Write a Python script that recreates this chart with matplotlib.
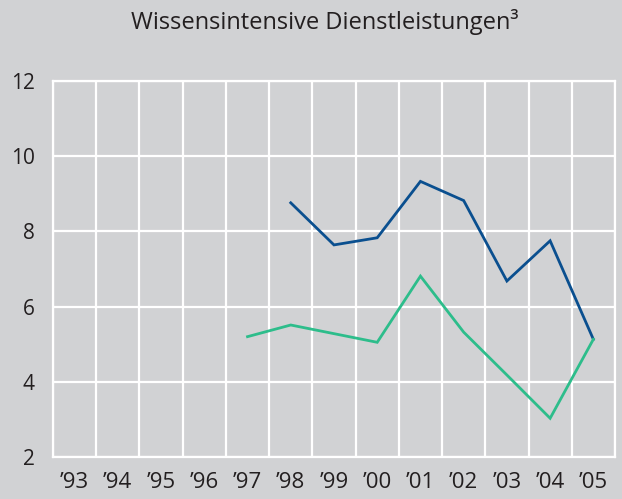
import matplotlib.pyplot as plt
import numpy as np

plt.rcParams['font.family'] = ['Open Sans', 'DejaVu Sans']

years = ["’93", "’94", "’95", "’96", "’97", "’98", "’99", "’00", "’01", "’02", "’03", "’04", "’05"]
# blue series from '98
blue_years = [5, 6, 7, 8, 9, 10, 11, 12]
blue_vals = [8.76, 7.64, 7.83, 9.33, 8.82, 6.68, 7.75, 5.13]
# green series from '97
green_years = [4, 5, 6, 7, 8, 9, 10, 11, 12]
green_vals = [5.2, 5.51, 5.28, 5.05, 6.81, 5.32, 4.18, 3.03, 5.13]
yticks = [2, 4, 6, 8, 10, 12]

bg = '#d1d2d4'
fig = plt.figure(figsize=(6.22, 4.99), dpi=100, facecolor=bg)
ax = fig.add_axes([0.0852, 0.0842, 0.9035, 0.7535])
ax.set_facecolor(bg)

ax.plot(blue_years, blue_vals, color='#0a4f8f', lw=2.0, solid_joinstyle='miter')
ax.plot(green_years, green_vals, color='#2dbd8b', lw=2.0, solid_joinstyle='miter')

ax.set_xlim(-0.5, len(years) - 0.5)
ax.set_ylim(2, 12)
ax.set_xticks(np.arange(len(years)))
ax.set_xticklabels(years)
ax.set_xticks(np.arange(len(years) + 1) - 0.5, minor=True)
ax.set_yticks(yticks)
ax.grid(True, which='minor', axis='x', color='white', lw=1.6)
ax.grid(True, which='major', axis='y', color='white', lw=1.6)
ax.set_axisbelow(True)
for s in ax.spines.values():
    s.set_color('white')
    s.set_linewidth(1.6)
ax.tick_params(which='both', length=0)
ax.tick_params(axis='y', pad=13, labelsize=15, labelcolor='#231f20')
ax.tick_params(axis='x', pad=11, labelsize=16, labelcolor='#231f20')

fig.text(325 / 622, 1 - 22 / 499, 'Wissensintensive Dienstleistungen³',
         ha='center', va='center', fontsize=17, color='#231f20')

fig.savefig('out.png', dpi=100, facecolor=bg)
